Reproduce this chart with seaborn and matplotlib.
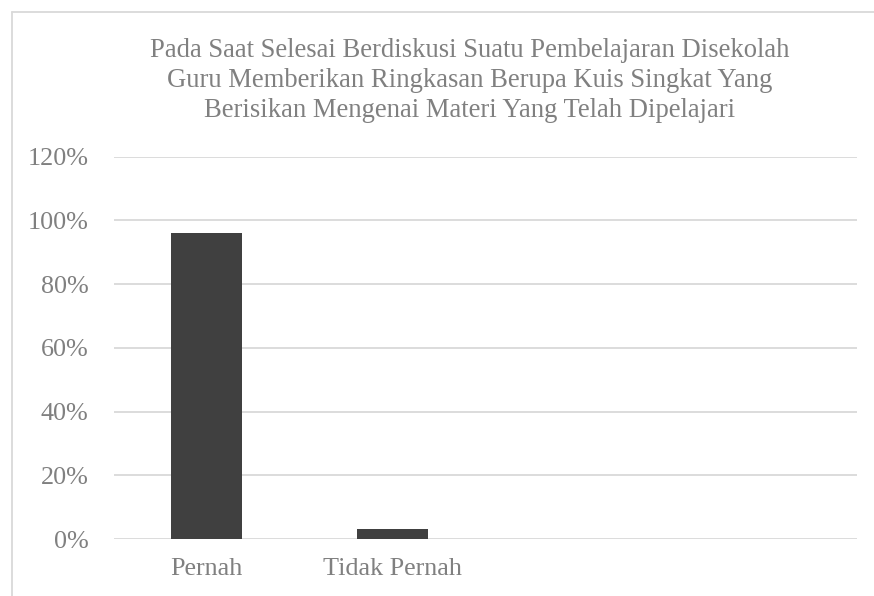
import matplotlib
matplotlib.use("Agg")
import matplotlib.pyplot as plt
from matplotlib.lines import Line2D
import seaborn as sns
import pandas as pd

categories = ["Pernah", "Tidak Pernah"]
values = [0.96, 0.03]
title_lines = [
    "Pada Saat Selesai Berdiskusi Suatu Pembelajaran Disekolah",
    "Guru Memberikan Ringkasan Berupa Kuis Singkat Yang",
    "Berisikan Mengenai Materi Yang Telah Dipelajari",
]
y_ticks = [0, 0.2, 0.4, 0.6, 0.8, 1.0, 1.2]
y_tick_labels = ["0%", "20%", "40%", "60%", "80%", "100%", "120%"]

sns.set_theme(style="white")
plt.rcParams["font.family"] = ["Liberation Serif", "DejaVu Serif"]

TEXT = "#808080"
GRID = "#d9d9d9"
BAR = "#404040"

W, H = 874, 596
fig = plt.figure(figsize=(W / 100, H / 100), dpi=100)
fig.patch.set_facecolor("white")

left, right = 113.7 / W, 857.3 / W
top, bottom = 1 - 156.6 / H, 1 - 539.0 / H
ax = fig.add_axes([left, bottom, right - left, top - bottom])

df = pd.DataFrame({"cat": categories, "val": values})
sns.barplot(data=df, x="cat", y="val", color=BAR, width=0.38,
            saturation=1, ax=ax, zorder=3)
for p in ax.patches:
    p.set_edgecolor("none")

ax.set_xlim(-0.5, 3.5)
ax.set_ylim(0, 1.2)
ax.set_yticks(y_ticks)
ax.set_yticklabels(y_tick_labels)
ax.set_xlabel("")
ax.set_ylabel("")
ax.yaxis.grid(True, color=GRID, linewidth=1.3, zorder=0)
ax.set_axisbelow(True)
for s in ax.spines.values():
    s.set_visible(False)
ax.tick_params(axis="both", length=0, labelsize=18.8, colors=TEXT)
ax.tick_params(axis="y", pad=18)
ax.tick_params(axis="x", pad=14)
for lbl in ax.get_xticklabels() + ax.get_yticklabels():
    lbl.set_color(TEXT)

# title
baselines = [56.7, 86.7, 116.7]
for line, yb in zip(title_lines, baselines):
    fig.text(470 / W, 1 - yb / H, line, ha="center", va="baseline",
             fontsize=19.2, color=TEXT)

# chart area border (left and top edges visible)
bx, by = 11.7 / W, 1 - 11.7 / H
fig.add_artist(Line2D([bx, bx], [0, by], transform=fig.transFigure,
                      color=GRID, linewidth=1.3))
fig.add_artist(Line2D([bx, 1], [by, by], transform=fig.transFigure,
                      color=GRID, linewidth=1.3))

fig.savefig("out.png", dpi=100)
